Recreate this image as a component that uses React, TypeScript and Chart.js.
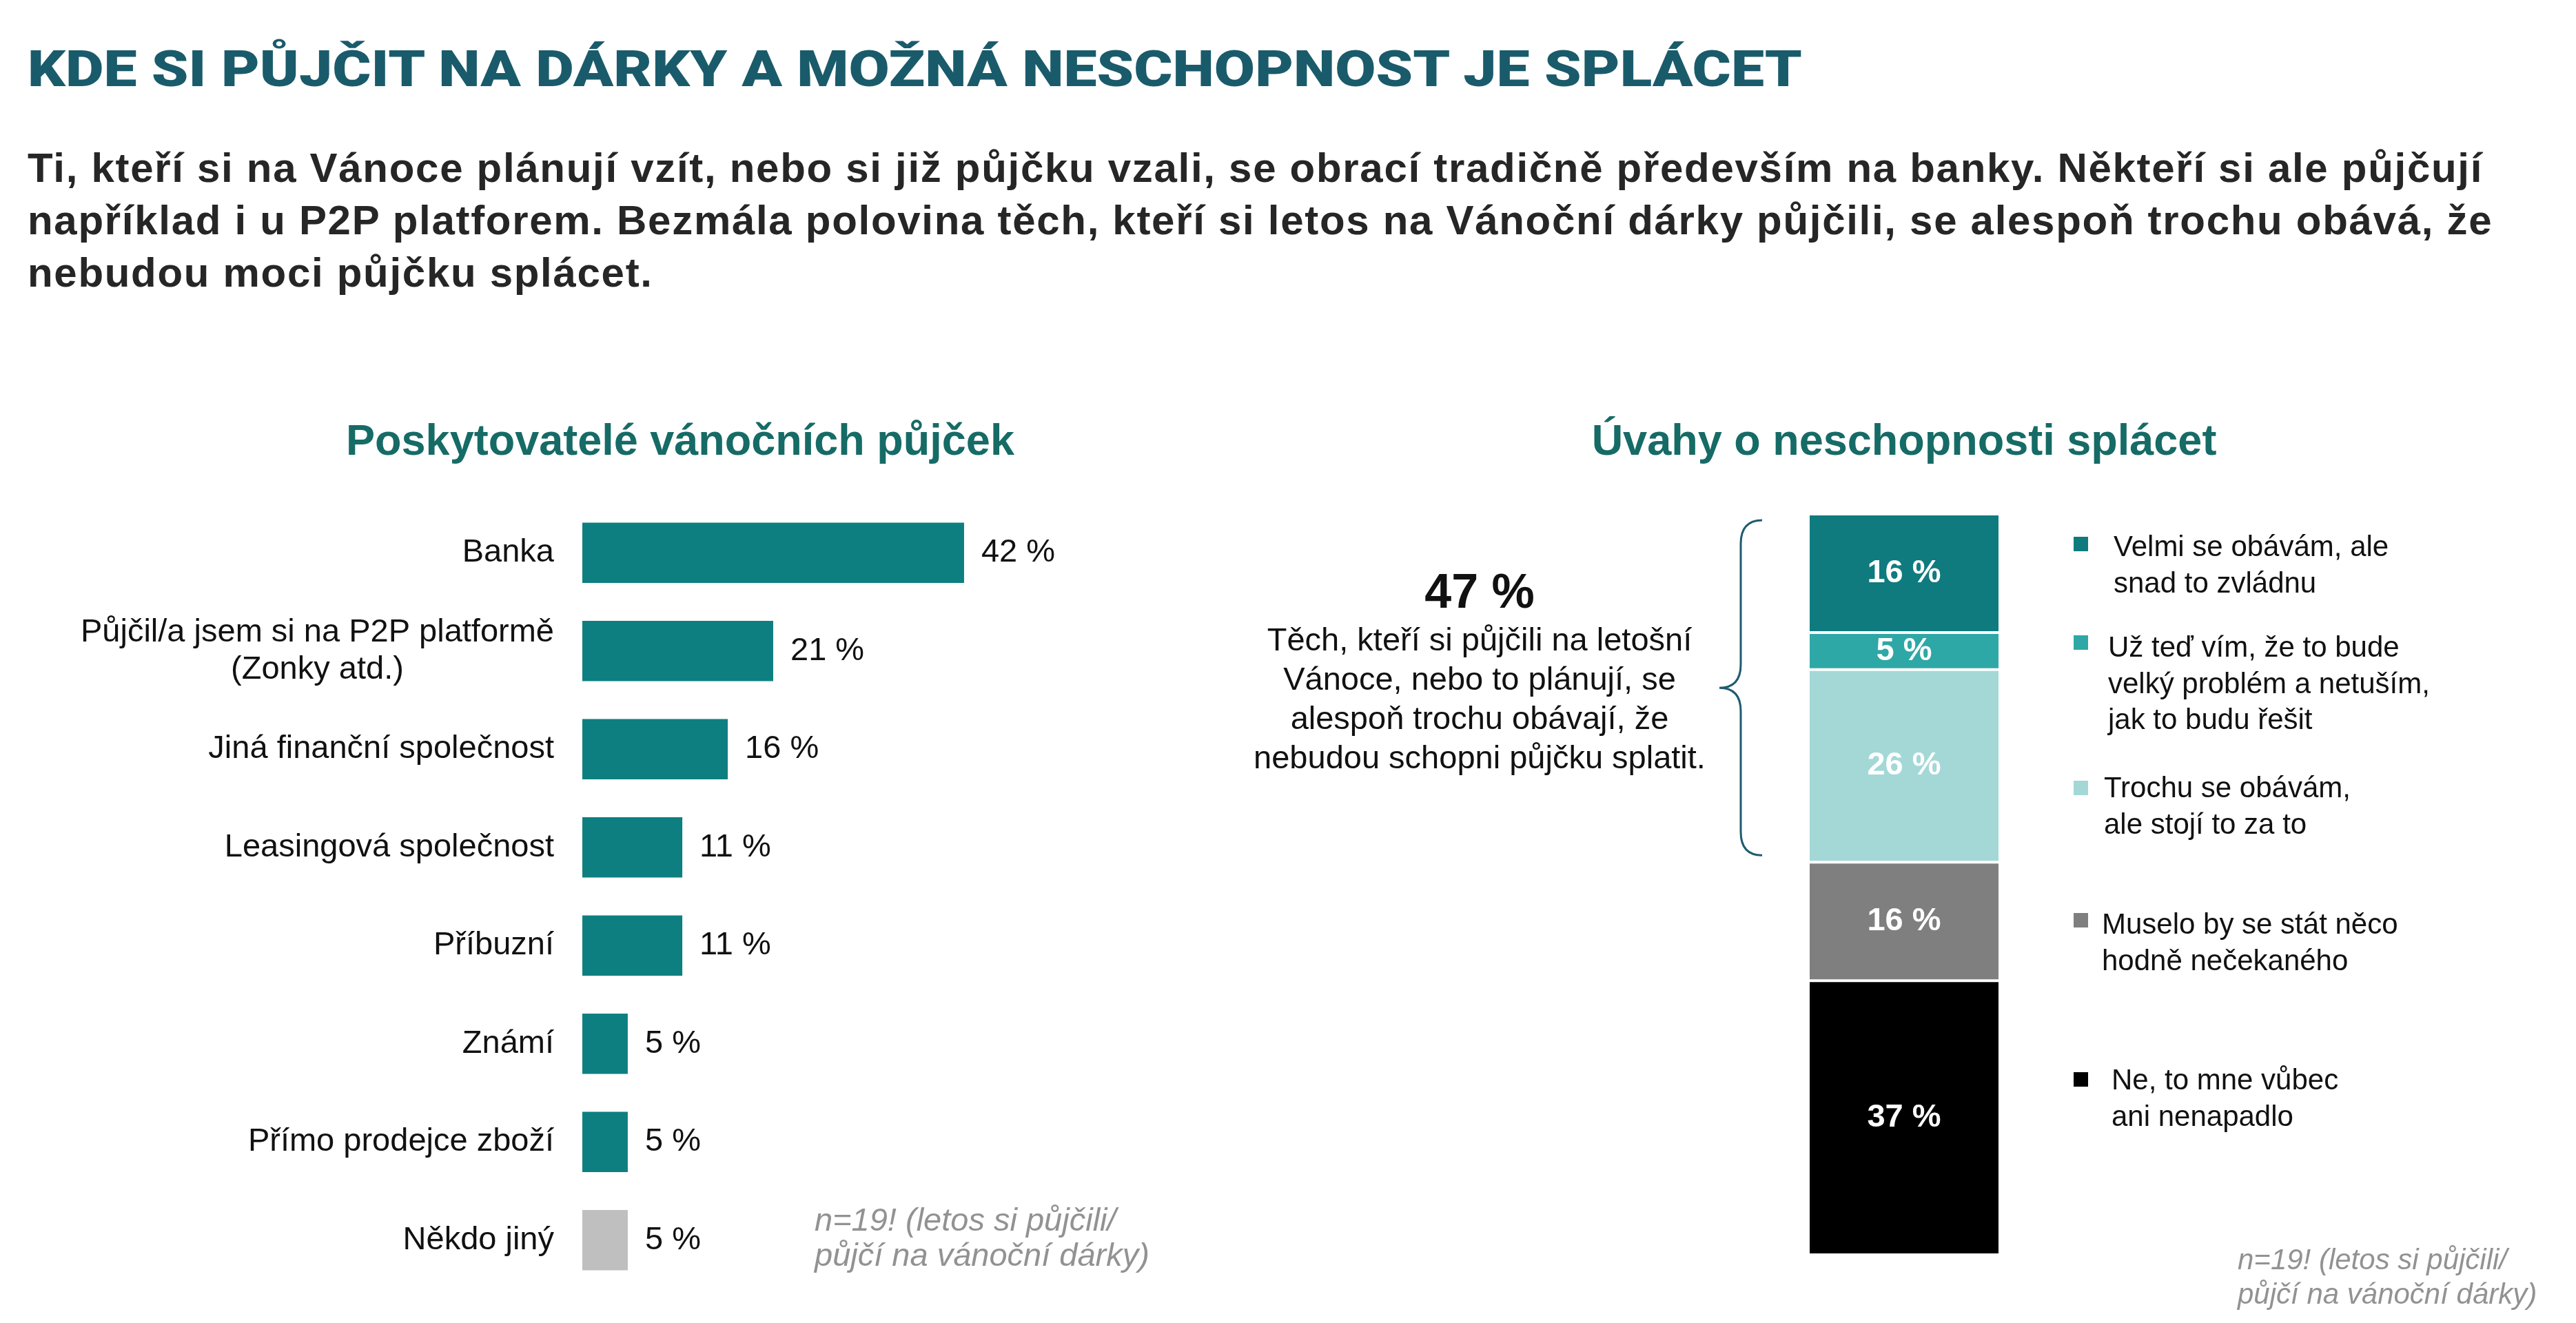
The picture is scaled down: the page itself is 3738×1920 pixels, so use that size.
import React, { useEffect, useRef } from "react";
import { Chart, registerables } from "chart.js";

Chart.register(...registerables);

// ---- data ----
const pageTitle = "KDE SI PŮJČIT NA DÁRKY A MOŽNÁ NESCHOPNOST JE SPLÁCET";
const introLines = [
  "Ti, kteří si na Vánoce plánují vzít, nebo si již půjčku vzali, se obrací tradičně především na banky. Někteří si ale půjčují",
  "například i u P2P platforem. Bezmála polovina těch, kteří si letos na Vánoční dárky půjčili, se alespoň trochu obává, že",
  "nebudou moci půjčku splácet.",
];

const providersTitle = "Poskytovatelé vánočních půjček";
const providerCategories: string[][] = [
  ["Banka"],
  ["Půjčil/a jsem si na P2P platformě", "(Zonky atd.)"],
  ["Jiná finanční společnost"],
  ["Leasingová společnost"],
  ["Příbuzní"],
  ["Známí"],
  ["Přímo prodejce zboží"],
  ["Někdo jiný"],
];
const providerShares = [42, 21, 16, 11, 11, 5, 5, 5];

const concernsTitle = "Úvahy o neschopnosti splácet";
const concernAnswers: string[][] = [
  ["Velmi se obávám, ale", "snad to zvládnu"],
  ["Už teď vím, že to bude", "velký problém a netuším,", "jak to budu řešit"],
  ["Trochu se obávám,", "ale stojí to za to"],
  ["Muselo by se stát něco", "hodně nečekaného"],
  ["Ne, to mne vůbec", "ani nenapadlo"],
];
const concernShares = [16, 5, 26, 16, 37];
const worriedCount = 3; // first three answers express some worry

const worriedCaption = [
  "Těch, kteří si půjčili na letošní",
  "Vánoce, nebo to plánují, se",
  "alespoň trochu obávají, že",
  "nebudou schopni půjčku splatit.",
];
const sampleNote = ["n=19! (letos si půjčili/", "půjčí na vánoční dárky)"];

// ---- styles ----
const SANS = '"Liberation Sans", Arial, Helvetica, sans-serif';
const TEAL = "#0e7f81";
const providerColors = [TEAL, TEAL, TEAL, TEAL, TEAL, TEAL, TEAL, "#bfbfbf"];
const concernColors = ["#0f7b7f", "#2ea8a6", "#a3d8d7", "#7f7f7f", "#000000"];
const TITLE_COLOR = "#1a5b6b";
const HEAD_COLOR = "#166b66";
const NOTE_COLOR = "#929292";
const BRACE_COLOR = "#1f5b70";

// legend layout on the right side
const legendMarkerX = 3009;
const legendTextX = [3067, 3059, 3053, 3050, 3064];
const legendMarkerTop = [779, 922, 1133, 1325, 1556];
const legendTextTop = [767, 913, 1117, 1315, 1541];

const providerLabelsPlugin = {
  id: "providerLabels",
  afterDatasetsDraw(chart: any) {
    const { ctx } = chart;
    const xs = chart.scales.x;
    const ys = chart.scales.y;
    const meta = chart.getDatasetMeta(0);
    ctx.save();
    ctx.font = `47px ${SANS}`;
    ctx.fillStyle = "#111111";
    ctx.textBaseline = "middle";
    providerCategories.forEach((lines, i) => {
      const cy = ys.getPixelForValue(i);
      const blockW = Math.max(...lines.map((l) => ctx.measureText(l).width));
      const cx = xs.left - 41 - blockW / 2;
      const lh = 54;
      ctx.textAlign = "center";
      lines.forEach((line, j) => {
        ctx.fillText(line, cx, cy + (j - (lines.length - 1) / 2) * lh);
      });
      const bar = meta.data[i];
      ctx.textAlign = "left";
      ctx.fillText(`${providerShares[i]} %`, bar.x + 25, cy);
    });
    ctx.restore();
  },
};

const concernLabelsPlugin = {
  id: "concernLabels",
  afterDatasetsDraw(chart: any) {
    const { ctx, chartArea } = chart;
    const ys = chart.scales.y;
    ctx.save();
    // segment values
    ctx.font = `bold 47px ${SANS}`;
    ctx.fillStyle = "#ffffff";
    ctx.textAlign = "center";
    ctx.textBaseline = "middle";
    chart.data.datasets.forEach((ds: any, i: number) => {
      const bar = chart.getDatasetMeta(i).data[0];
      ctx.fillText(`${ds.data[0]} %`, bar.x, (bar.y + bar.base) / 2);
    });
    // curly brace spanning the worried answers
    const worried = concernShares.slice(0, worriedCount).reduce((a, b) => a + b, 0);
    const y0 = ys.getPixelForValue(0) + 9;
    const y1 = ys.getPixelForValue(worried) - 10;
    const ym = (y0 + y1) / 2;
    const xe = chartArea.left - 69;
    const xs = chartArea.left - 100;
    const xt = chartArea.left - 131;
    const r = 34;
    ctx.strokeStyle = BRACE_COLOR;
    ctx.lineWidth = 3;
    ctx.beginPath();
    ctx.moveTo(xe, y0);
    ctx.quadraticCurveTo(xs, y0, xs, y0 + r);
    ctx.lineTo(xs, ym - r);
    ctx.quadraticCurveTo(xs, ym, xt, ym);
    ctx.quadraticCurveTo(xs, ym, xs, ym + r);
    ctx.lineTo(xs, y1 - r);
    ctx.quadraticCurveTo(xs, y1, xe, y1);
    ctx.stroke();
    ctx.restore();
  },
};

function ProvidersChart() {
  const ref = useRef<HTMLCanvasElement>(null);
  useEffect(() => {
    const chart = new Chart(ref.current as HTMLCanvasElement, {
      type: "bar",
      data: {
        labels: providerCategories.map((l) => l.join(" ")),
        datasets: [
          {
            data: providerShares,
            backgroundColor: providerColors,
            borderWidth: 0,
            barPercentage: 0.615,
            categoryPercentage: 1,
          },
        ],
      },
      options: {
        indexAxis: "y",
        responsive: false,
        animation: false,
        devicePixelRatio: 1,
        layout: { padding: { left: 845, right: 255.5, top: 31, bottom: 49 } },
        scales: {
          x: { display: false, min: 0, max: 50 },
          y: { display: false },
        },
        plugins: { legend: { display: false }, tooltip: { enabled: false } },
      } as any,
      plugins: [providerLabelsPlugin],
    });
    return () => chart.destroy();
  }, []);
  return (
    <canvas
      ref={ref}
      width={1760}
      height={1220}
      style={{ position: "absolute", left: 0, top: 700, width: 1760, height: 1220 }}
    />
  );
}

function ConcernsChart() {
  const ref = useRef<HTMLCanvasElement>(null);
  useEffect(() => {
    const chart = new Chart(ref.current as HTMLCanvasElement, {
      type: "bar",
      data: {
        labels: [""],
        datasets: concernAnswers.map((ans, i) => ({
          label: ans.join(" "),
          data: [concernShares[i]],
          backgroundColor: concernColors[i],
          borderColor: "#ffffff",
          borderWidth: { top: 2, bottom: 2, left: 0, right: 0 },
          borderSkipped: false,
          inflateAmount: 0,
          barPercentage: 1,
          categoryPercentage: 1,
        })),
      },
      options: {
        responsive: false,
        animation: false,
        devicePixelRatio: 1,
        layout: { padding: { left: 866, right: 838, top: 46, bottom: 99 } },
        scales: {
          x: { display: false, stacked: true },
          y: { display: false, stacked: true, min: 0, max: 100, reverse: true },
        },
        plugins: { legend: { display: false }, tooltip: { enabled: false } },
      } as any,
      plugins: [concernLabelsPlugin],
    });
    return () => chart.destroy();
  }, []);
  return (
    <canvas
      ref={ref}
      width={1978}
      height={1220}
      style={{ position: "absolute", left: 1760, top: 700, width: 1978, height: 1220 }}
    />
  );
}

const abs = (o: React.CSSProperties): React.CSSProperties => ({
  position: "absolute",
  margin: 0,
  whiteSpace: "pre",
  ...o,
});

export default function App() {
  const worried = concernShares.slice(0, worriedCount).reduce((a, b) => a + b, 0);
  return (
    <div
      style={{
        position: "absolute",
        left: 0,
        top: 0,
        width: 3738,
        height: 1920,
        background: "#ffffff",
        overflow: "hidden",
        fontFamily: SANS,
      }}
    >
      <div
        style={abs({
          left: 40,
          top: 63.5,
          fontFamily: "Roboto, sans-serif",
          fontWeight: 900,
          fontSize: 73,
          lineHeight: "73px",
          color: TITLE_COLOR,
          transform: "scaleX(1.176)",
          transformOrigin: "0 0",
        })}
      >
        {pageTitle}
      </div>
      <div
        style={abs({
          left: 40,
          top: 206,
          fontWeight: 700,
          fontSize: 60,
          lineHeight: "76px",
          letterSpacing: "1.7px",
          color: "#262626",
        })}
      >
        {introLines.map((l, i) => (
          <div key={i}>{l}</div>
        ))}
      </div>

      <div
        style={abs({
          left: 487,
          width: 1000,
          top: 603,
          textAlign: "center",
          fontWeight: 700,
          fontSize: 63,
          lineHeight: "70px",
          color: HEAD_COLOR,
        })}
      >
        {providersTitle}
      </div>
      <div
        style={abs({
          left: 2263,
          width: 1000,
          top: 603,
          textAlign: "center",
          fontWeight: 700,
          fontSize: 63,
          lineHeight: "70px",
          color: HEAD_COLOR,
        })}
      >
        {concernsTitle}
      </div>

      <ProvidersChart />
      <ConcernsChart />

      <div
        style={abs({
          left: 1747,
          width: 800,
          top: 822.7,
          textAlign: "center",
          fontWeight: 700,
          fontSize: 70,
          lineHeight: "70px",
          color: "#111111",
        })}
      >
        {`${worried} %`}
      </div>
      <div
        style={abs({
          left: 1747,
          width: 800,
          top: 900.4,
          textAlign: "center",
          fontSize: 47,
          lineHeight: "56.7px",
          color: "#111111",
        })}
      >
        {worriedCaption.map((l, i) => (
          <div key={i}>{l}</div>
        ))}
      </div>

      {concernAnswers.map((lines, i) => (
        <React.Fragment key={i}>
          <div
            style={abs({
              left: legendMarkerX,
              top: legendMarkerTop[i],
              width: 21,
              height: 21,
              background: concernColors[i],
            })}
          />
          <div
            style={abs({
              left: legendTextX[i],
              top: legendTextTop[i],
              fontSize: 42,
              lineHeight: "52.5px",
              color: "#111111",
            })}
          >
            {lines.map((l, j) => (
              <div key={j}>{l}</div>
            ))}
          </div>
        </React.Fragment>
      ))}

      <div
        style={abs({
          left: 1182,
          top: 1743.5,
          fontStyle: "italic",
          fontSize: 47,
          lineHeight: "51px",
          color: NOTE_COLOR,
        })}
      >
        {sampleNote.map((l, i) => (
          <div key={i}>{l}</div>
        ))}
      </div>
      <div
        style={abs({
          left: 3247,
          top: 1803,
          fontStyle: "italic",
          fontSize: 42,
          lineHeight: "50px",
          color: NOTE_COLOR,
        })}
      >
        {sampleNote.map((l, i) => (
          <div key={i}>{l}</div>
        ))}
      </div>
    </div>
  );
}
